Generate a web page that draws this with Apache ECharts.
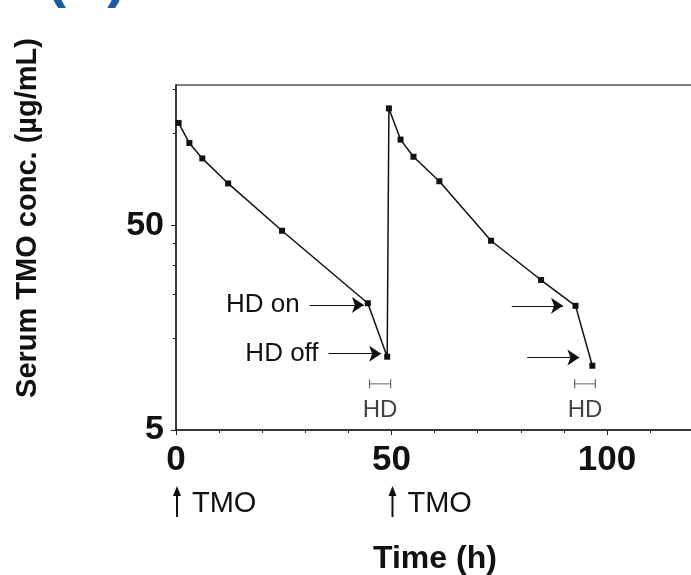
<!DOCTYPE html>
<html>
<head>
<meta charset="utf-8">
<script src="https://cdn.jsdelivr.net/npm/echarts@6/dist/echarts.min.js"></script>
<style>
  html, body { margin: 0; padding: 0; background: #fff; }
  #chart { width: 691px; height: 575px; }
</style>
</head>
<body>
<div id="chart"></div>
<script>
// serum TMO concentration over time
const timeH = [0.6, 3.1, 6.1, 12.1, 24.6, 44.5, 49.0, 49.4, 52.1, 55.1, 61.1, 73.1, 84.7, 92.7, 96.6];
const concTMO = [158, 126, 106, 80, 47, 20.8, 11.4, 186, 131, 108, 82, 42, 27, 20.2, 10.3];

const xTicks = [0, 50, 100];
const yTicks = [5, 50];
const yMinorTicks = [14, 23, 32, 41, 140, 230];

// arrows pointing at the HD on / HD off points: [from, to, conc, text]
const hdArrows = [
  [31.0, 43.6, 20.4, 'HD on'],
  [35.4, 47.6, 11.8, 'HD off'],
  [77.9, 89.8, 20.2, ''],
  [81.5, 93.6, 11.3, '']
];
// dialysis periods (h)
const hdSpans = [[44.9, 49.8], [92.5, 97.3]];
const hdBarConc = 8.4;
const hdLabelConc = 6.2;
// dosing times
const doseTimes = [0, 50];

const ink = '#111';
const font = 'Liberation Sans';

const chart = echarts.init(document.getElementById('chart'));

const hdSeries = hdSpans.map((s) => ({
  type: 'line',
  data: [[s[0], hdBarConc], [s[1], hdBarConc]],
  symbol: 'rect',
  symbolSize: [1.2, 9],
  itemStyle: { color: '#666' },
  lineStyle: { color: '#666', width: 1 },
  silent: true
}));

const option = {
  animation: false,
  grid: {
    left: 176, top: 85, width: 646.5, height: 345,
    outerBoundsMode: 'none',
    show: true, borderColor: '#555', borderWidth: 1.5,
    containLabel: false
  },
  xAxis: {
    type: 'value',
    min: 0, max: 150, interval: 50,
    axisLine: { lineStyle: { color: '#222', width: 1.5 } },
    axisTick: { length: 5, lineStyle: { color: '#222' } },
    minorTick: { show: true, splitNumber: 5, length: 3, lineStyle: { color: '#222' } },
    splitLine: { show: false },
    axisLabel: {
      customValues: xTicks,
      fontSize: 35, fontWeight: 'bold', color: ink, fontFamily: font, margin: 13
    }
  },
  yAxis: [
    {
      type: 'log',
      min: 5, max: 242,
      axisLine: { show: true, lineStyle: { color: '#222', width: 1.5 } },
      axisTick: { customValues: yTicks, length: 5, lineStyle: { color: '#222' } },
      minorTick: { show: false },
      splitLine: { show: false },
      axisLabel: {
        customValues: yTicks,
        fontSize: 34, fontWeight: 'bold', color: ink, fontFamily: font, margin: 12
      }
    },
    {
      type: 'log',
      min: 5, max: 242,
      position: 'left',
      axisLine: { show: false },
      axisTick: { customValues: yMinorTicks, length: 3, lineStyle: { color: '#222' } },
      splitLine: { show: false },
      axisLabel: { show: false }
    }
  ],
  series: [
    {
      type: 'line',
      data: timeH.map((t, i) => [t, concTMO[i]]),
      symbol: 'rect',
      symbolSize: 6,
      itemStyle: { color: ink },
      lineStyle: { color: ink, width: 1.5 },
      z: 5,
      markLine: {
        silent: true,
        symbol: ['none', 'arrow'],
        symbolSize: 12,
        lineStyle: { color: ink, width: 1.2, type: 'solid' },
        label: {
          show: true, position: 'start', formatter: '{b}', distance: 10,
          fontSize: 26, color: ink, fontFamily: font
        },
        emphasis: { disabled: true },
        data: hdArrows.map((a) => [
          { name: a[3], coord: [a[0], a[2]] },
          { coord: [a[1], a[2]] }
        ])
      }
    },
    ...hdSeries,
    {
      type: 'scatter',
      data: hdSpans.map((s) => [(s[0] + s[1]) / 2, hdLabelConc]),
      symbolSize: 0,
      silent: true,
      label: {
        show: true, position: 'inside', formatter: 'HD',
        fontSize: 24, color: '#111', fontFamily: font
      }
    }
  ]
};

chart.setOption(option);

// dose arrows under the x axis and free text
const graphics = [];
doseTimes.forEach((t) => {
  const x = chart.convertToPixel({ xAxisIndex: 0 }, t) + 1;
  graphics.push({
    type: 'line',
    shape: { x1: x, y1: 494, x2: x, y2: 517 },
    style: { stroke: ink, lineWidth: 2 }
  });
  graphics.push({
    type: 'polygon',
    shape: { points: [[x, 486], [x - 4, 496], [x + 4, 496]] },
    style: { fill: ink }
  });
  graphics.push({
    type: 'text',
    x: x + 15, y: 504,
    style: { text: 'TMO', font: '29px ' + font, fill: ink, textVerticalAlign: 'middle' }
  });
});
graphics.push({
  type: 'text',
  x: 373, y: 559,
  style: { text: 'Time (h)', font: 'bold 32px ' + font, fill: ink, textVerticalAlign: 'middle' }
});
graphics.push({
  type: 'text',
  x: 28, y: 218,
  rotation: Math.PI / 2,
  style: {
    text: 'Serum TMO conc. (µg/mL)', font: 'bold 29px ' + font, fill: ink,
    textAlign: 'center', textVerticalAlign: 'middle'
  }
});
graphics.push({
  type: 'text',
  x: 47, y: 9,
  style: { text: '(A)', font: 'bold 57px ' + font, fill: '#1b5e9e', textVerticalAlign: 'bottom' }
});
chart.setOption({ graphic: graphics });
</script>
</body>
</html>
